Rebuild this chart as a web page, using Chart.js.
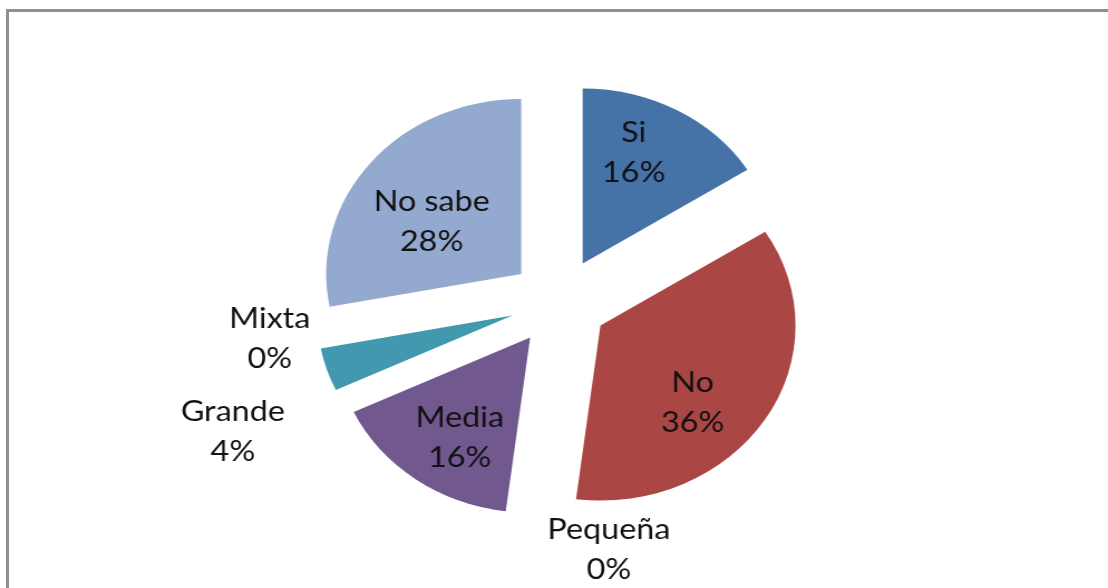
<!DOCTYPE html>
<html lang="es">
<head>
<meta charset="utf-8">
<title>Tamaño de empresa</title>
<script src="https://cdn.jsdelivr.net/npm/chart.js@4.4.1/dist/chart.umd.min.js"></script>
<style>
    html, body { margin: 0; padding: 0; background: #fff; width: 1108px; height: 588px; overflow: hidden; }
    #frame { position: absolute; left: 6px; top: 9px; width: 1200px; height: 700px; border: 3px solid #8f8f8f; box-sizing: border-box; }
    /* the original picture is wider than tall, so the pie is stretched sideways */
    #stretch { position: absolute; left: 0; top: 0; width: 994px; height: 588px; transform: scaleX(1.1147); transform-origin: 0 0; }
</style>
</head>
<body>
<div id="frame"></div>
<div id="stretch"><canvas id="pieChart" width="994" height="588"></canvas></div>
<script>
// Data
const categories = ['Si', 'No', 'Pequeña', 'Media', 'Grande', 'Mixta', 'No sabe'];
const percentages = [16, 36, 0, 16, 4, 0, 28];

// Styles
const sliceColors = ['#4572A7', '#AA4643', '#89A54E', '#71588F', '#4198AF', '#DB843D', '#93A9CF'];
// label spot: [angle shift in degrees, distance as a fraction of the radius], measured from the tip of the exploded slice
const labelPlacement = [[-6.3, 0.683], [10.7, 0.647], [-21, 1.202], [-3.8, 0.678], [-6.9, 1.58], [3.2, 1.247], [-6.7, 0.547]];
const explodeDistance = 44;
const pieRadius = 175;

document.addEventListener("DOMContentLoaded", function () {

    // Draw every slice pushed out from the centre, then the labels
    const explodedSlices = {
        id: 'explodedSlices',
        beforeDatasetDraw(chart, args) {
            const ctx = chart.ctx;
            args.meta.data.forEach(arc => {
                const mid = (arc.startAngle + arc.endAngle) / 2;
                ctx.save();
                ctx.translate(Math.cos(mid) * explodeDistance, Math.sin(mid) * explodeDistance);
                arc.draw(ctx, chart.chartArea);
                ctx.restore();
            });
            return false;
        },
        afterDatasetsDraw(chart) {
            const ctx = chart.ctx;
            const meta = chart.getDatasetMeta(0);
            ctx.save();
            ctx.font = '29px Lato';
            ctx.fillStyle = '#111';
            ctx.textAlign = 'center';
            ctx.textBaseline = 'middle';
            meta.data.forEach((arc, i) => {
                const mid = (arc.startAngle + arc.endAngle) / 2;
                const [shift, ratio] = labelPlacement[i];
                const a = mid + shift * Math.PI / 180;
                const tipX = arc.x + Math.cos(mid) * explodeDistance;
                const tipY = arc.y + Math.sin(mid) * explodeDistance;
                const x = tipX + Math.cos(a) * ratio * arc.outerRadius;
                const y = tipY + Math.sin(a) * ratio * arc.outerRadius;
                ctx.fillText(categories[i], x, y - 20);
                ctx.fillText(percentages[i] + '%', x, y + 20);
            });
            ctx.restore();
        }
    };

    const ctx = document.getElementById('pieChart').getContext('2d');
    new Chart(ctx, {
        type: 'pie',
        data: {
            labels: categories,
            datasets: [{
                data: percentages,
                backgroundColor: sliceColors,
                borderWidth: 0,
                radius: pieRadius
            }]
        },
        options: {
            responsive: false,
            animation: false,
            events: [],
            layout: { padding: { left: 9, right: 0, top: 16, bottom: 0 } },
            plugins: {
                legend: { display: false },
                tooltip: { enabled: false }
            }
        },
        plugins: [explodedSlices]
    });
});
</script>
</body>
</html>
